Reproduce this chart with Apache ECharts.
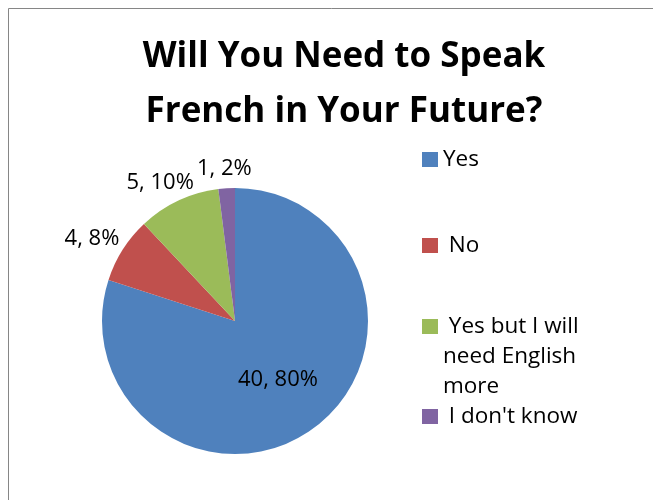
<!DOCTYPE html>
<html>
<head>
<meta charset="utf-8">
<script src="https://cdn.jsdelivr.net/npm/echarts@6/dist/echarts.min.js"></script>
<style>
  html, body { margin: 0; padding: 0; background: #ffffff; }
  #chart { width: 653px; height: 500px; }
</style>
</head>
<body>
<div id="chart"></div>
<script>
// Survey answers
const categories = ['Yes', 'No', 'Yes but I will need English more', "I don't know"];
const counts = [40, 4, 5, 1];
const colors = ['#4F81BD', '#C0504D', '#9BBB59', '#8064A2'];

// Legend text as it wraps beside each swatch
const legendText = {
  'Yes': 'Yes',
  'No': ' No',
  'Yes but I will need English more': ' Yes but I will\nneed English\nmore',
  "I don't know": " I don't know"
};

const PIE_CENTER = [235, 321];
const PIE_RADIUS = 133;
const total = counts.reduce((a, b) => a + b, 0);

const chart = echarts.init(document.getElementById('chart'), null, { renderer: 'canvas' });

const baseFont = "'Open Sans', 'Noto Sans', sans-serif";
const LEGEND_LINE = 30;

// one legend block per category so each swatch sits at its own height;
// wrapped names get blank lines in front so the first line stays beside the swatch
const swatchTops = [148, 234, 319, 405];
const legends = categories.map((name, i) => {
  const lines = legendText[name].split('\n');
  const pad = lines.length - 1;
  const text = Array(pad).fill('').concat(lines).join('\n');
  const blockHalf = (lines.length + pad) * LEGEND_LINE / 2;
  const multi = lines.length > 1;
  return {
    data: [name],
    left: 422,
    top: multi ? swatchTops[i] + 7.5 - blockHalf : swatchTops[i],
    orient: 'vertical',
    padding: 0,
    itemWidth: 16,
    itemHeight: 15,
    itemGap: 0,
    icon: 'rect',
    selectedMode: false,
    formatter: () => text,
    textStyle: {
      fontFamily: baseFont,
      fontSize: 22.5,
      color: '#000',
      lineHeight: multi ? LEGEND_LINE : 15
    }
  };
});

function midAngle(idx) {
  let before = 0;
  for (let k = 0; k < idx; k++) before += counts[k];
  return (before + counts[idx] / 2) / total * Math.PI * 2;
}

chart.setOption({
  backgroundColor: '#ffffff',
  animation: false,
  color: colors,
  title: {
    text: 'Will You Need to Speak\nFrench in Your Future?',
    left: 339,
    textAlign: 'center',
    top: 25,
    textStyle: {
      fontFamily: baseFont,
      fontWeight: 'bold',
      fontSize: 35,
      lineHeight: 55,
      color: '#000'
    }
  },
  legend: legends,
  graphic: [
    {
      type: 'rect',
      shape: { x: 8.5, y: 8.5, width: 700, height: 600 },
      style: { fill: 'none', stroke: '#868686', lineWidth: 1 },
      silent: true
    },
    {
      // last line of the text above the chart frame
      type: 'text',
      x: 7,
      y: 5,
      style: {
        text: "children's future.",
        font: "20px 'Liberation Serif', serif",
        fill: '#000',
        verticalAlign: 'bottom'
      },
      silent: true
    }
  ],
  series: [{
    type: 'pie',
    center: PIE_CENTER,
    radius: PIE_RADIUS,
    startAngle: 90,
    clockwise: true,
    avoidLabelOverlap: false,
    data: categories.map((name, i) => ({ name, value: counts[i] })),
    itemStyle: { borderWidth: 0 },
    emphasis: { disabled: true },
    label: {
      show: true,
      position: 'outside',
      fontFamily: baseFont,
      fontSize: 22,
      color: '#000',
      formatter: p => p.value + ', ' + Math.round(p.percent) + '%'
    },
    labelLine: { show: false },
    labelLayout: function (params) {
      const i = params.dataIndex;
      const a = midAngle(i);
      const dx = Math.sin(a), dy = -Math.cos(a);
      const w = params.labelRect.width, h = 22;
      if (counts[i] / total > 0.5) {
        const d = PIE_RADIUS * 0.55;
        return {
          x: PIE_CENTER[0] + dx * d,
          y: PIE_CENTER[1] + dy * d,
          align: 'center',
          verticalAlign: 'middle'
        };
      }
      // anchor just outside the rim, box pushed outward along the slice direction
      const d = PIE_RADIUS + 9;
      return {
        x: PIE_CENTER[0] + dx * d + dx * w / 2,
        y: PIE_CENTER[1] + dy * d + dy * h / 2,
        align: 'center',
        verticalAlign: 'middle'
      };
    }
  }]
});
</script>
</body>
</html>
